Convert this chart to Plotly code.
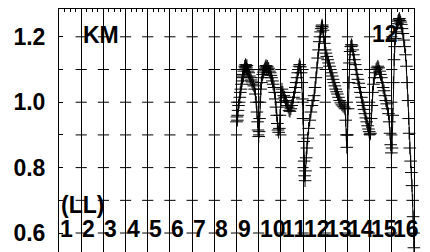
import plotly.graph_objects as go

# ---- data ----
x_vals = [8.00, 8.02, 8.04, 8.05, 8.07, 8.09, 8.12, 8.15, 8.17, 8.20, 8.22, 8.25, 8.27, 8.29,
          8.31, 8.33, 8.35, 8.37, 8.39, 8.41, 8.43, 8.45, 8.47, 8.49, 8.52, 8.55, 8.58, 8.62,
          8.66, 8.70, 8.74, 8.78, 8.82, 8.85, 8.89, 8.92, 8.95, 8.97, 9.00, 9.02, 9.04, 9.06,
          9.09, 9.12, 9.15, 9.18, 9.21, 9.24, 9.27, 9.30, 9.33, 9.36, 9.39, 9.42, 9.45, 9.48,
          9.52, 9.55, 9.58, 9.62, 9.65, 9.69, 9.72, 9.75, 9.78, 9.81, 9.84, 9.87, 9.90, 9.93,
          9.96, 9.99, 10.02, 10.05, 10.09, 10.13, 10.17, 10.21, 10.25, 10.29, 10.33, 10.37,
          10.41, 10.45, 10.49, 10.53, 10.57, 10.61, 10.65, 10.69, 10.73, 10.76, 10.79, 10.82,
          10.85, 10.88, 10.91, 10.94, 10.97, 11.00, 11.03, 11.05, 11.07, 11.09, 11.11, 11.14,
          11.17, 11.21, 11.25, 11.30, 11.35, 11.40, 11.45, 11.50, 11.54, 11.58, 11.62, 11.66,
          11.70, 11.73, 11.76, 11.79, 11.82, 11.84, 11.86, 11.88, 11.90, 11.93, 11.96, 11.99,
          12.03, 12.07, 12.11, 12.15, 12.19, 12.23, 12.27, 12.31, 12.35, 12.39, 12.43, 12.47,
          12.51, 12.55, 12.60, 12.65, 12.70, 12.75, 12.80, 12.85, 12.89, 12.92, 12.95, 12.97,
          13.00, 13.03, 13.06, 13.09, 13.12, 13.15, 13.18, 13.21, 13.24, 13.27, 13.31, 13.35,
          13.39, 13.43, 13.47, 13.51, 13.55, 13.59, 13.63, 13.67, 13.71, 13.75, 13.79, 13.83,
          13.87, 13.91, 13.95, 13.98, 14.01, 14.04, 14.07, 14.10, 14.13, 14.17, 14.21, 14.25,
          14.29, 14.33, 14.37, 14.41, 14.45, 14.49, 14.53, 14.57, 14.61, 14.65, 14.69, 14.73,
          14.77, 14.81, 14.85, 14.89, 14.92, 14.95, 14.98, 15.01, 15.04, 15.07, 15.10, 15.13,
          15.16, 15.19, 15.22, 15.25, 15.28, 15.31, 15.34, 15.37, 15.40, 15.43, 15.46, 15.50,
          15.54, 15.58, 15.62, 15.66, 15.69, 15.73, 15.76, 15.78, 15.81, 15.85, 15.88, 15.91,
          15.94, 15.96, 15.98, 15.995]
y_vals = [0.940, 0.955, 0.945, 0.960, 0.975, 0.990, 1.000, 1.015, 1.030, 1.040, 1.055, 1.065,
          1.075, 1.085, 1.080, 1.095, 1.100, 1.110, 1.105, 1.115, 1.110, 1.105, 1.112, 1.100,
          1.095, 1.090, 1.080, 1.075, 1.068, 1.062, 1.055, 1.050, 1.040, 1.025, 1.000, 0.970,
          0.940, 0.915, 0.895, 0.910, 0.950, 1.000, 1.040, 1.060, 1.075, 1.085, 1.092, 1.098,
          1.102, 1.108, 1.112, 1.105, 1.110, 1.100, 1.104, 1.095, 1.090, 1.082, 1.075, 1.065,
          1.055, 1.045, 1.030, 1.010, 0.985, 0.960, 0.935, 0.915, 0.908, 0.920, 0.960, 1.000,
          1.030, 1.040, 1.030, 1.020, 1.015, 1.005, 1.000, 0.990, 0.985, 0.975, 0.972, 0.980,
          0.990, 1.000, 1.015, 1.030, 1.045, 1.060, 1.075, 1.090, 1.100, 1.110, 1.115, 1.108,
          1.090, 1.060, 1.010, 0.950, 0.880, 0.820, 0.775, 0.760, 0.790, 0.830, 0.860, 0.890,
          0.920, 0.945, 0.970, 0.990, 1.005, 1.020, 1.045, 1.075, 1.105, 1.135, 1.160, 1.185,
          1.200, 1.215, 1.225, 1.232, 1.236, 1.230, 1.220, 1.200, 1.180, 1.160, 1.150, 1.140,
          1.130, 1.120, 1.110, 1.100, 1.090, 1.080, 1.070, 1.060, 1.050, 1.040, 1.032, 1.025,
          1.015, 1.005, 0.998, 0.992, 0.988, 0.985, 0.980, 0.945, 0.900, 0.862, 0.900, 0.980,
          1.060, 1.120, 1.155, 1.170, 1.176, 1.172, 1.160, 1.145, 1.130, 1.115, 1.100, 1.085,
          1.070, 1.058, 1.045, 1.030, 1.015, 1.000, 0.990, 0.978, 0.965, 0.952, 0.940, 0.928,
          0.918, 0.910, 0.902, 0.905, 0.950, 0.990, 1.030, 1.055, 1.075, 1.090, 1.100, 1.105,
          1.110, 1.105, 1.095, 1.085, 1.075, 1.060, 1.045, 1.035, 1.020, 1.005, 0.995, 0.980,
          0.965, 0.940, 0.905, 0.870, 0.845, 0.860, 0.960, 1.060, 1.130, 1.170, 1.195, 1.215,
          1.228, 1.240, 1.248, 1.252, 1.256, 1.250, 1.245, 1.238, 1.225, 1.210, 1.190, 1.170,
          1.145, 1.110, 1.060, 1.005, 0.950, 0.905, 0.860, 0.820, 0.785, 0.745, 0.700, 0.650,
          0.600, 0.555]

number_labels = [str(k) for k in range(1, 17)]
y_tick_vals = [0.6, 0.8, 1.0, 1.2]
y_tick_text = ["0.6", "0.8", "1.0", "1.2"]

FONT = "Liberation Sans"
FS = 23

fig = go.Figure()

# short horizontal crosses on the interior vertical grid lines
gx, gy = [], []
for i in range(1, 16):
    for j in range(6, 13):
        gx.append(i)
        gy.append(j / 10)
fig.add_trace(go.Scatter(x=gx, y=gy, mode="markers", hoverinfo="skip",
                         marker=dict(symbol="line-ew", size=8,
                                     line=dict(color="black", width=1)),
                         showlegend=False))

fig.add_trace(go.Scatter(x=x_vals, y=y_vals, mode="lines+markers", cliponaxis=False,
                         line=dict(color="black", width=1),
                         marker=dict(symbol="cross-thin", size=9,
                                     line=dict(color="black", width=1)),
                         showlegend=False))

annots = []
for k, lab in enumerate(number_labels):
    annots.append(dict(x=k, y=0.612, text=lab, showarrow=False, xanchor="left",
                       yanchor="middle", xshift=-1,
                       font=dict(family=FONT, size=FS, color="black", weight="bold")))
annots.append(dict(x=1, y=1.205, text="KM", showarrow=False, xanchor="left", yanchor="middle",
                   font=dict(family=FONT, size=FS, color="black", weight="bold")))
annots.append(dict(x=14, y=1.21, text="12", showarrow=False, xanchor="left", yanchor="middle",
                   font=dict(family=FONT, size=FS, color="black", weight="bold")))
annots.append(dict(x=0, y=0.686, text="(LL)", showarrow=False, xanchor="left", yanchor="middle",
                   font=dict(family=FONT, size=FS, color="black", weight="bold")))

# the page body adds an 8 px offset; size the figure to compensate
fig.update_layout(
    width=422, height=244,
    margin=dict(l=51, r=16, t=1, b=0, autoexpand=False),
    paper_bgcolor="white", plot_bgcolor="white",
    annotations=annots,
    xaxis=dict(range=[0, 16], side="top", showgrid=True, gridcolor="black", gridwidth=1,
               dtick=1, tick0=0, showticklabels=False, zeroline=False, automargin=False,
               showline=True, linecolor="black", linewidth=1, mirror=False,
               ticks="inside", ticklen=4, tickcolor="black",
               minor=dict(dtick=0.25, ticks="inside", ticklen=3, tickcolor="black",
                          showgrid=False)),
    yaxis=dict(range=[0.542, 1.285], showgrid=False, zeroline=False, automargin=False,
               tickvals=y_tick_vals, ticktext=y_tick_text,
               ticks="inside", ticklen=4, tickcolor="black",
               minor=dict(dtick=0.1, tick0=0, ticks="inside", ticklen=4, tickcolor="black"),
               showline=True, linecolor="black", linewidth=1, mirror="ticks",
               ticklabelstandoff=8,
               tickfont=dict(family=FONT, size=FS, color="black", weight="bold")),
)

fig.write_html("out.html")
